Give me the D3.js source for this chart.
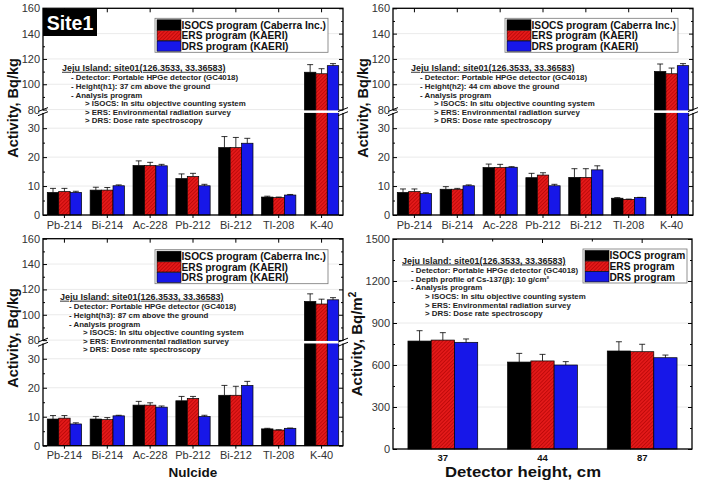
<!DOCTYPE html>
<html><head><meta charset="utf-8">
<script src="https://cdn.jsdelivr.net/npm/d3@7"></script>
<style>body{margin:0;background:#fff}svg{display:block;font-family:Arial,"Liberation Sans",sans-serif}</style>
</head><body><svg id="c" width="706" height="484"></svg>
<script>
// ---------- data ----------
const nuclides = ["Pb-214","Bi-214","Ac-228","Pb-212","Bi-212","Tl-208","K-40"];
const seriesNames = ["ISOCS program (Caberra Inc.)","ERS program (KAERI)","DRS program (KAERI)"];
const seriesNamesShort = ["ISOCS program","ERS program","DRS program"];
const upperTicks = [80,100,120,140,160];
const upperMinor = [90,110,130,150];
const lowerTicks = [0,10,20,30];
const lowerMinor = [5,15,25];

// Height h1 = 37 cm
const h1Isocs = [7.8, 8.6, 17.1, 12.6, 23.3, 6.2, 109.5];
const h1Ers   = [8.1, 8.6, 17.1, 13.3, 23.3, 6.0, 108.3];
const h1Drs   = [7.8, 10.1, 17.0, 10.1, 24.8, 6.9, 114.7];
const h1IsocsErr = [1.4, 1.0, 1.6, 1.6, 3.8, 0.3, 6.0];
const h1ErsErr   = [1.1, 0.9, 1.1, 1.1, 3.5, 0.2, 4.0];
const h1DrsErr   = [0.4, 0.3, 0.5, 0.5, 1.7, 0.2, 1.6];

// Height h2 = 44 cm
const h2Isocs = [7.8, 8.9, 16.4, 12.9, 13.0, 5.8, 110.1];
const h2Ers   = [8.1, 8.9, 16.4, 13.8, 13.0, 5.4, 108.3];
const h2Drs   = [7.4, 10.1, 16.5, 10.1, 15.6, 6.0, 114.7];
const h2IsocsErr = [1.2, 0.9, 1.2, 1.5, 3.0, 0.2, 5.9];
const h2ErsErr   = [0.9, 0.3, 1.1, 0.8, 3.0, 0.1, 4.5];
const h2DrsErr   = [0.3, 0.3, 0.2, 0.5, 1.4, 0.1, 1.6];

// Height h3 = 87 cm
const h3Isocs = [9.2, 9.2, 14.0, 15.5, 17.4, 5.8, 110.5];
const h3Ers   = [9.5, 9.0, 14.0, 16.3, 17.4, 5.4, 108.5];
const h3Drs   = [7.5, 10.3, 13.3, 10.1, 20.8, 6.0, 111.8];
const h3IsocsErr = [1.2, 0.9, 1.3, 1.5, 3.4, 0.2, 6.0];
const h3ErsErr   = [0.9, 0.7, 0.8, 0.7, 3.1, 0.1, 3.8];
const h3DrsErr   = [0.4, 0.2, 0.4, 0.4, 1.4, 0.1, 1.7];

// Cs-137 inventory vs detector height
const heights = ["37","44","87"];
const csTicks = [0,300,600,900,1200,1500];
const csMinor = [150,450,750,1050,1350];
const csIsocs = [771, 621, 700];
const csErs   = [778, 629, 695];
const csDrs   = [762, 600, 652];
const csIsocsErr = [74, 62, 66];
const csErsErr   = [53, 47, 53];
const csDrsErr   = [24, 24, 19];

const infoTitle = "Jeju Island: site01(126.3533, 33.36583)";
const infoDetector = "- Detector: Portable HPGe detector (GC4018)";
const infoHeights = ["- Height(h1): 37 cm above the ground","- Height(h2): 44 cm above the ground","- Height(h3): 87 cm above the ground"];
const infoDepth = "- Depth profile of Cs-137(β): 10 g/cm²";
const infoAnalysis = "- Analysis program";
const infoPrograms = ["> ISOCS: In situ objective counting system","> ERS: Environmental radiation survey","> DRS: Dose rate spectroscopy"];

// ---------- drawing ----------
const svg = d3.select("#c");
const defs = svg.append("defs");
const pat = defs.append("pattern").attr("id","hatch").attr("patternUnits","userSpaceOnUse")
  .attr("width",2.6).attr("height",2.6).attr("patternTransform","rotate(45)");
pat.append("rect").attr("width",2.6).attr("height",2.6).attr("fill","#e41a1a");
pat.append("line").attr("x1",0.5).attr("y1",0).attr("x2",0.5).attr("y2",2.6).attr("stroke","#a80000").attr("stroke-width",0.6);
const fills = ["#000000","url(#hatch)","#1717e8"];
const TXT = "#333";

function styleAxis(sel, fs){
  sel.select(".domain").remove();
  sel.selectAll(".tick line").attr("stroke","#000").attr("stroke-width",1);
  sel.selectAll(".tick text").attr("font-size",fs).attr("fill",TXT).attr("font-family",'Arial,"Liberation Sans",sans-serif');
}

function drawErrors(g, xf, yf, vals, errs){
  vals.forEach((v,i)=>{
    const cx = xf(i), y0 = yf(v), y1 = yf(v+errs[i]);
    g.append("line").attr("x1",cx).attr("x2",cx).attr("y1",y0).attr("y2",y1).attr("stroke","#000").attr("stroke-width",0.8);
    g.append("line").attr("x1",cx-3).attr("x2",cx+3).attr("y1",y1).attr("y2",y1).attr("stroke","#000").attr("stroke-width",0.8);
  });
}

function drawLegend(g, x, y, w, names){
  g.append("rect").attr("x",x).attr("y",y).attr("width",w).attr("height",34)
    .attr("fill","#fff").attr("stroke","#777").attr("stroke-width",0.8);
  names.forEach((n,i)=>{
    const yy = y + 1.5 + i*10.6;
    g.append("rect").attr("x",x+2).attr("y",yy).attr("width",24).attr("height",10.2)
      .attr("fill",fills[i]).attr("stroke","#000").attr("stroke-width",0.6);
    g.append("text").attr("x",x+26.5).attr("y",yy+8.9).text(n)
      .attr("font-size",10.2).attr("font-weight","bold").attr("fill","#111");
  });
}

function drawInfo(g, x, y, lines){
  g.append("text").attr("x",x).attr("y",y).text(infoTitle)
    .attr("font-size",9).attr("font-weight","bold").attr("fill","#222").attr("text-decoration","underline");
  lines.forEach((l,i)=>{
    const indent = l.startsWith(">") ? 23 : 9;
    g.append("text").attr("x",x+indent).attr("y",y+9.6+8.6*i).text(l)
      .attr("font-size",7.9).attr("font-weight","bold").attr("fill","#222");
  });
}

function nuclidePanel(p){
  const g = svg.append("g");
  const H = p.bottom - p.top;
  const segH = H*0.49;
  const gy0 = p.top + segH, gy1 = p.bottom - segH;
  const yUp = d3.scaleLinear().domain([80,160]).range([gy0, p.top]);
  const yLo = d3.scaleLinear().domain([0,35]).range([p.bottom, gy1]);
  const y = v => v >= 80 ? yUp(v) : yLo(Math.min(v,35));
  const x = d3.scaleBand().domain(nuclides).range([p.x0,p.x1]).paddingInner(0.2).paddingOuter(0.1);
  const xs = d3.scaleBand().domain([0,1,2]).range([0,x.bandwidth()]);

  upperTicks.forEach(t=>g.append("line").attr("x1",p.x0).attr("x2",p.x1).attr("y1",yUp(t)).attr("y2",yUp(t)).attr("stroke","#e4e4e4").attr("stroke-width",0.8));
  lowerTicks.forEach(t=>g.append("line").attr("x1",p.x0).attr("x2",p.x1).attr("y1",yLo(t)).attr("y2",yLo(t)).attr("stroke","#e4e4e4").attr("stroke-width",0.8));

  p.series.forEach((vals,si)=>{
    g.selectAll(null).data(vals).join("rect")
      .attr("x",(d,i)=>x(nuclides[i])+xs(si)).attr("width",xs.bandwidth())
      .attr("y",d=>y(d)).attr("height",d=>p.bottom-y(d))
      .attr("fill",fills[si]).attr("stroke","#000").attr("stroke-width",0.7);
    drawErrors(g, i=>x(nuclides[i])+xs(si)+xs.bandwidth()/2, y, vals, p.errs[si]);
  });

  g.append("rect").attr("x",p.x0).attr("y",p.top).attr("width",p.x1-p.x0).attr("height",H)
    .attr("fill","none").attr("stroke","#000").attr("stroke-width",1.3);

  g.append("rect").attr("x",p.x0-5).attr("y",gy0+0.8).attr("width",p.x1-p.x0+10).attr("height",gy1-gy0-1.6).attr("fill","#fff");
  [p.x0,p.x1].forEach(ax=>[gy0,gy1].forEach(yy=>{
    g.append("line").attr("x1",ax-5).attr("y1",yy+2).attr("x2",ax+5).attr("y2",yy-2).attr("stroke","#000").attr("stroke-width",1);
  }));

  const la = g.append("g").attr("transform",`translate(${p.x0},0)`);
  styleAxis(la.append("g").call(d3.axisLeft(yUp).tickValues(upperTicks).tickSize(-4).tickPadding(3)),11);
  styleAxis(la.append("g").call(d3.axisLeft(yLo).tickValues(lowerTicks).tickSize(-4).tickPadding(3)),11);
  styleAxis(la.append("g").call(d3.axisLeft(yUp).tickValues(upperMinor).tickSize(-2).tickFormat("")),11);
  styleAxis(la.append("g").call(d3.axisLeft(yLo).tickValues(lowerMinor).tickSize(-2).tickFormat("")),11);
  const ra = g.append("g").attr("transform",`translate(${p.x1},0)`);
  styleAxis(ra.append("g").call(d3.axisRight(yUp).tickValues(upperTicks).tickSize(-4).tickFormat("")),11);
  styleAxis(ra.append("g").call(d3.axisRight(yLo).tickValues(lowerTicks).tickSize(-4).tickFormat("")),11);
  styleAxis(ra.append("g").call(d3.axisRight(yUp).tickValues(upperMinor).tickSize(-2).tickFormat("")),11);
  styleAxis(ra.append("g").call(d3.axisRight(yLo).tickValues(lowerMinor).tickSize(-2).tickFormat("")),11);
  styleAxis(g.append("g").attr("transform",`translate(0,${p.top})`).call(d3.axisTop(x).tickSize(-4).tickFormat("")),11);
  styleAxis(g.append("g").attr("transform",`translate(0,${p.bottom})`).call(d3.axisBottom(x).tickSize(3).tickPadding(3)),11);

  g.append("text").attr("transform",`translate(${p.yTitleX},${p.yTitleY}) rotate(-90)`)
    .attr("text-anchor","middle").attr("font-size",14.5).attr("font-weight","bold").attr("fill","#111").text("Activity, Bq/kg");

  drawInfo(g, p.x0+p.infoDx, p.top+p.infoDy, [infoDetector, infoHeights[p.hIndex], infoAnalysis, ...infoPrograms]);
  drawLegend(g, p.x0+112, p.top+p.legDy, 173, seriesNames);
  return g;
}

const g1 = nuclidePanel({x0:43,x1:343,top:8.3,bottom:215,series:[h1Isocs,h1Ers,h1Drs],errs:[h1IsocsErr,h1ErsErr,h1DrsErr],
  hIndex:0,infoDx:19,infoDy:62.5,legDy:10,yTitleX:18,yTitleY:108});
g1.append("rect").attr("x",43).attr("y",9).attr("width",54).attr("height",27).attr("fill","#000");
g1.append("text").attr("x",70).attr("y",30).attr("text-anchor","middle").attr("font-size",19.5).attr("font-weight","bold").attr("fill","#fff").text("Site1");

nuclidePanel({x0:393,x1:693,top:8.3,bottom:215,series:[h2Isocs,h2Ers,h2Drs],errs:[h2IsocsErr,h2ErsErr,h2DrsErr],
  hIndex:1,infoDx:18,infoDy:62.5,legDy:10,yTitleX:368,yTitleY:108});

const g3 = nuclidePanel({x0:43,x1:343,top:238.7,bottom:445.7,series:[h3Isocs,h3Ers,h3Drs],errs:[h3IsocsErr,h3ErsErr,h3DrsErr],
  hIndex:2,infoDx:17,infoDy:61,legDy:11,yTitleX:18,yTitleY:338});
g3.append("text").attr("x",193).attr("y",477).attr("text-anchor","middle").attr("font-size",13.5).attr("font-weight","bold").attr("fill","#111").text("Nulcide");

// ---------- panel 4 ----------
(function(){
  const p = {x0:393,x1:692,top:239,bottom:449};
  const g = svg.append("g");
  const y = d3.scaleLinear().domain([0,1500]).range([p.bottom,p.top]);
  const x = d3.scaleBand().domain(heights).range([p.x0,p.x1]).paddingInner(0.3).paddingOuter(0.15);
  const xs = d3.scaleBand().domain([0,1,2]).range([0,x.bandwidth()]);
  csTicks.forEach(t=>g.append("line").attr("x1",p.x0).attr("x2",p.x1).attr("y1",y(t)).attr("y2",y(t)).attr("stroke","#e4e4e4").attr("stroke-width",0.8));
  const series = [csIsocs,csErs,csDrs], errs = [csIsocsErr,csErsErr,csDrsErr];
  series.forEach((vals,si)=>{
    g.selectAll(null).data(vals).join("rect")
      .attr("x",(d,i)=>x(heights[i])+xs(si)).attr("width",xs.bandwidth())
      .attr("y",d=>y(d)).attr("height",d=>p.bottom-y(d))
      .attr("fill",fills[si]).attr("stroke","#000").attr("stroke-width",0.7);
    drawErrors(g, i=>x(heights[i])+xs(si)+xs.bandwidth()/2, y, vals, errs[si]);
  });
  g.append("rect").attr("x",p.x0).attr("y",p.top).attr("width",p.x1-p.x0).attr("height",p.bottom-p.top)
    .attr("fill","none").attr("stroke","#000").attr("stroke-width",1.3);
  styleAxis(g.append("g").attr("transform",`translate(${p.x0},0)`).call(d3.axisLeft(y).tickValues(csTicks).tickSize(-4).tickPadding(3).tickFormat(d3.format("d"))),11);
  styleAxis(g.append("g").attr("transform",`translate(${p.x0},0)`).call(d3.axisLeft(y).tickValues(csMinor).tickSize(-2).tickFormat("")),11);
  styleAxis(g.append("g").attr("transform",`translate(${p.x1},0)`).call(d3.axisRight(y).tickValues(csTicks).tickSize(-4).tickFormat("")),11);
  styleAxis(g.append("g").attr("transform",`translate(${p.x1},0)`).call(d3.axisRight(y).tickValues(csMinor).tickSize(-2).tickFormat("")),11);
  const cx = h => x(h)+x.bandwidth()/2;
  const mids = heights.slice(1).map((h,i)=>(cx(h)+cx(heights[i]))/2);
  styleAxis(g.append("g").attr("transform",`translate(0,${p.top})`).call(d3.axisTop(x).tickSize(-4).tickFormat("")),11);
  mids.forEach(m=>g.append("line").attr("x1",m).attr("x2",m).attr("y1",p.top).attr("y2",p.top+2.5).attr("stroke","#000"));
  const ba = g.append("g").attr("transform",`translate(0,${p.bottom})`).call(d3.axisBottom(x).tickSize(0).tickPadding(5));
  styleAxis(ba,9.5);
  ba.selectAll(".tick text").attr("font-weight","bold").attr("fill","#111");
  g.append("text").attr("x",523).attr("y",477).attr("text-anchor","middle").attr("font-size",14.5)
    .attr("textLength",156).attr("lengthAdjust","spacingAndGlyphs")
    .attr("font-weight","bold").attr("fill","#111").text("Detector height, cm");
  const yt = g.append("text").attr("transform",`translate(362,344) rotate(-90)`)
    .attr("text-anchor","middle").attr("font-size",15).attr("font-weight","bold").attr("fill","#111");
  yt.append("tspan").text("Activity, Bq/m");
  yt.append("tspan").attr("font-size",10).attr("dy",-6).text("2");
  drawInfo(g, p.x0+9, p.top+24.5, [infoDetector, infoDepth, infoAnalysis, ...infoPrograms]);
  drawLegend(g, 583, 249, 104, seriesNamesShort);
})();
</script></body></html>
